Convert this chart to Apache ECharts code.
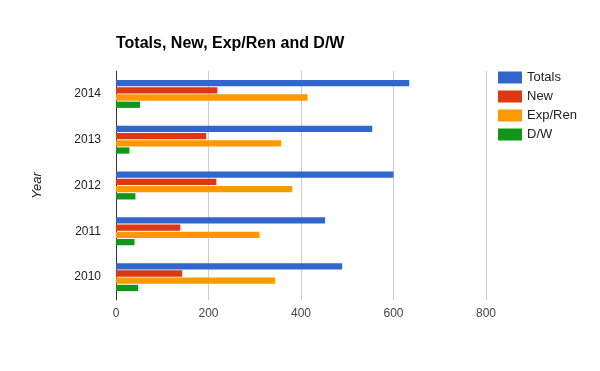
<!DOCTYPE html>
<html><head><meta charset="utf-8">
<script src="https://cdn.jsdelivr.net/npm/echarts@6/dist/echarts.min.js"></script>
<style>html,body{margin:0;padding:0;background:#fff}#c{width:600px;height:371px}</style>
</head><body><div id="c"></div>
<script>
const years = ['2010','2011','2012','2013','2014'];
const totals = [489, 452, 600, 554, 634];
const newer = [143, 139, 217, 195, 219];
const expRen = [344, 310, 381, 357, 414];
const dw = [48, 40, 42, 29, 52];
const xTicks = [0, 200, 400, 600, 800];

const F = 'Liberation Sans, Arial, sans-serif';
const chart = echarts.init(document.getElementById('c'));
function s(name, data, color) {
  return {name, type: 'bar', data, itemStyle: {color}, barGap: '15%', barCategoryGap: '39%'};
}
chart.setOption({
  animation: false,
  title: {text: 'Totals, New, Exp/Ren and D/W', left: 111, top: 36, padding: [0,0,0,5],
    textStyle: {fontFamily: F, fontSize: 16, fontWeight: 'bold', color: '#000'}},
  legend: {orient: 'vertical', left: 498, top: 71, padding: 0, itemWidth: 24, itemHeight: 12, itemGap: 6,
    icon: 'rect', textStyle: {fontFamily: F, fontSize: 13, color: '#222'},
    data: ['Totals','New','Exp/Ren','D/W']},
  grid: {left: 116, right: 114, top: 71, bottom: 71},
  xAxis: {type: 'value', min: xTicks[0], max: xTicks[xTicks.length-1], interval: 200,
    axisLine: {show: false}, axisTick: {show: false},
    splitLine: {lineStyle: {color: '#cccccc'}},
    axisLabel: {fontFamily: F, fontSize: 12, color: '#444', margin: 8}},
  yAxis: {type: 'category', data: years, inverse: false,
    name: 'Year', nameLocation: 'middle', nameGap: 72, nameRotate: 90,
    nameTextStyle: {fontFamily: F, fontSize: 13, fontStyle: 'italic', color: '#222'},
    axisLine: {lineStyle: {color: '#333'}}, axisTick: {show: false},
    axisLabel: {fontFamily: F, fontSize: 12, color: '#222', margin: 15}},
  series: [s('Totals', totals, '#3366cc'), s('New', newer, '#dc3912'),
           s('Exp/Ren', expRen, '#ff9900'), s('D/W', dw, '#109618')]
});
</script></body></html>
